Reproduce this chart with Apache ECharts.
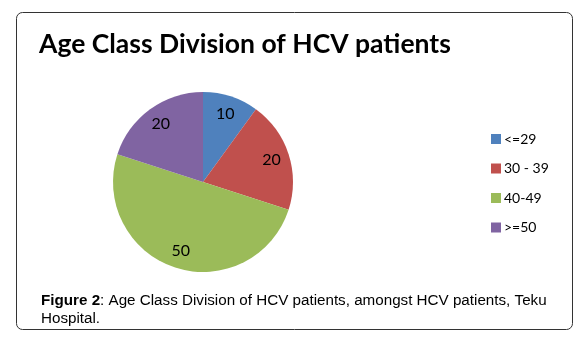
<!DOCTYPE html>
<html><head><meta charset="utf-8">
<script src="https://cdn.jsdelivr.net/npm/echarts@6/dist/echarts.min.js"></script>
<style>html,body{margin:0;padding:0;background:#fff}#c{width:586px;height:341px}</style>
</head><body><div id="c"></div>
<script>
const categories = ['<=29', '30 - 39', '40-49', '>=50'];
const values = [10, 20, 50, 20];
const colors = ['#4F81BD', '#C0504D', '#9BBB59', '#8064A2'];
const titleText = 'Age Class Division of HCV patients';
const captionBold = 'Figure 2';
const captionLine1 = ': Age Class Division of HCV patients, amongst HCV patients, Teku';
const captionLine2 = 'Hospital.';

const chart = echarts.init(document.getElementById('c'), null, {renderer: 'canvas'});
const data = categories.map((n, i) => ({name: n, value: values[i], itemStyle: {color: colors[i]}}));
chart.setOption({
  animation: false,
  title: [{
    text: titleText, left: 34, top: 26,
    textStyle: {fontFamily: 'Lato', fontWeight: 'bold', fontSize: 26.5, color: '#000'}
  }, {
    text: '{b|' + captionBold + '}{n|' + captionLine1 + '}\n{n|' + captionLine2 + '}',
    left: 36, top: 287,
    textStyle: {fontWeight: 'normal', rich: {
      b: {fontFamily: 'Liberation Sans', fontWeight: 'bold', fontSize: 15.2, color: '#000', lineHeight: 18},
      n: {fontFamily: 'Liberation Sans', fontWeight: 'normal', fontSize: 15.2, color: '#000', lineHeight: 18}
    }}
  }],
  legend: {
    orient: 'vertical', left: 486, top: 127, itemWidth: 10, itemHeight: 10, itemGap: 15.5,
    icon: 'rect', data: categories, itemStyle: {borderWidth: 0},
    textStyle: {fontFamily: 'Lato', fontSize: 14, color: '#000', padding: [0, 0, 0, -2]}
  },
  graphic: [{
    type: 'rect', shape: {x: 16.5, y: 12.5, width: 556, height: 317, r: 6},
    style: {fill: 'none', stroke: '#333', lineWidth: 1}, silent: true, z: -1
  }],
  series: [{
    type: 'pie', center: [203, 182], radius: [0, 90], startAngle: 90, clockwise: true,
    data: data, label: {show: false}, labelLine: {show: false},
    itemStyle: {borderWidth: 0}, emphasis: {disabled: true}, silent: true
  }, {
    type: 'pie', center: [203, 182], radius: [48, 90], startAngle: 90, clockwise: true,
    data: categories.map((n, i) => ({name: n, value: values[i]})),
    itemStyle: {color: 'rgba(0,0,0,0)', borderWidth: 0},
    label: {show: true, position: 'inside', formatter: '{c}', fontFamily: 'Lato', fontSize: 16, color: '#000'},
    labelLine: {show: false}, emphasis: {disabled: true}, silent: true, legendHoverLink: false
  }]
});
</script></body></html>
